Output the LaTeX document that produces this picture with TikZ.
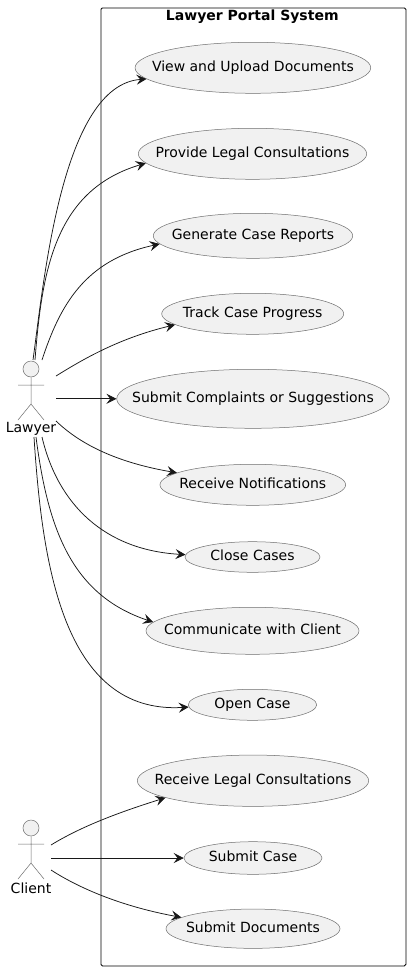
\documentclass[tikz,border=0pt]{standalone}
\usepackage{fontspec}
\setmainfont{DejaVu Sans}
\usetikzlibrary{shapes.geometric,arrows.meta}
\definecolor{ucfill}{HTML}{F1F1F1}
\definecolor{ucline}{HTML}{6E6E6E}
\definecolor{inkc}{HTML}{181818}
\tikzset{
  usecase/.style={ellipse,draw=ucline,fill=ucfill,line width=0.5pt,inner sep=0pt,font=\fontsize{14pt}{16pt}\selectfont,text=black},
  actorlimb/.style={draw=ucline,line width=0.5pt},
  actorhead/.style={circle,draw=ucline,fill=ucfill,line width=0.5pt,minimum size=16pt,inner sep=0pt},
  actorlabel/.style={font=\fontsize{14pt}{16pt}\selectfont,text=black,inner sep=0pt},
  link/.style={draw=inkc,line width=0.75pt,-{Stealth[length=10pt,width=10pt,inset=3.8pt]}},
  sysbox/.style={draw=black,line width=0.75pt,rounded corners=1.5pt},
  systitle/.style={font=\bfseries\fontsize{14pt}{16pt}\selectfont,inner sep=0pt}
}
\begin{document}
\begin{tikzpicture}[x=1pt,y=-1pt]
\useasboundingbox (0,0) rectangle (410,970);
\fill[white] (0,0) rectangle (410,970);
\node[sysbox,minimum width=305pt,minimum height=958pt,anchor=north west] (sys) at (100.5,7.5) {};
\node[systitle] (title) at (252.3,17) {Lawyer Portal System};
\newcommand{\uc}[6]{\node[usecase,minimum width=#4pt,minimum height=#5pt] (#1) at (#2,#3) {\makebox[0pt][c]{\vphantom{Ag}#6}};}
\uc{view}{252.9}{67.8}{235.7}{51}{View and Upload Documents}
\uc{prov}{252.5}{153.8}{228.4}{51}{Provide Legal Consultations}
\uc{gen}{253}{235.8}{199.4}{45}{Generate Case Reports}
\uc{track}{252.7}{313.8}{182}{41}{Track Case Progress}
\uc{subc}{253}{398.8}{272.6}{59}{Submit Complaints or Suggestions}
\uc{noti}{252.8}{484.8}{185.7}{41}{Receive Notifications}
\uc{close}{252.5}{557}{135}{30.6}{Close Cases}
\uc{comm}{252.5}{630.8}{213}{47}{Communicate with Client}
\uc{open}{252.5}{704.8}{128.4}{31}{Open Case}
\uc{recv}{253}{780.7}{231.4}{51.3}{Receive Legal Consultations}
\uc{subk}{253}{858}{138}{32.6}{Submit Case}
\uc{subd}{253}{928.7}{174}{39.3}{Submit Documents}
% Lawyer
\node[actorhead] (lh) at (31,369) {};
\coordinate (lb) at (31,404);
\coordinate (lal) at (18,385);
\coordinate (lar) at (44,385);
\coordinate (lfl) at (18,420);
\coordinate (lfr) at (44,420);
\draw[actorlimb] (lh.south) -- (lb) (lal) -- (lar) (lfl) -- (lb) -- (lfr);
\node[actorlabel] (lawyer) at (31,429) {Lawyer};
% Client
\node[actorhead] (ch) at (31,828) {};
\coordinate (cb) at (31,863);
\coordinate (cal) at (18,844);
\coordinate (car) at (44,844);
\coordinate (cfl) at (18,879);
\coordinate (cfr) at (44,879);
\draw[actorlimb] (ch.south) -- (cb) (cal) -- (car) (cfl) -- (cb) -- (cfr);
\node[actorlabel] (client) at (31,888) {Client};
% start points
\coordinate (s1) at (33,360);
\coordinate (s2) at (35,360);
\coordinate (s3) at (42,360);
\coordinate (s4) at (56,376);
\coordinate (s5) at (56,398.8);
\coordinate (s6) at (56,421);
\coordinate (s7) at (42,437);
\coordinate (s8) at (36,437);
\coordinate (s9) at (34,437);
\coordinate (c1) at (51,845);
\coordinate (c2) at (51,858);
\coordinate (c3) at (51,870);
\draw[link] (s1) .. controls (44,280) and (62,85) .. (view.186);
\draw[link] (s2) .. controls (42,270) and (55,190) .. (prov.185.6);
\draw[link] (s3) .. controls (60,305) and (85,260) .. (gen.185.3);
\draw[link] (s4) .. controls (85,358) and (120,338) .. (track.188.4);
\draw[link] (s5) -- (subc.west);
\draw[link] (s6) .. controls (82,446) and (120,463) .. (noti.171.4);
\draw[link] (s7) .. controls (58,505) and (105,550) .. (close.178.3);
\draw[link] (s8) .. controls (48,530) and (72,595) .. (comm.175);
\draw[link] (s9) .. controls (42,560) and (62,715) .. (open.182.3);
\draw[link] (c1) .. controls (82,826) and (120,812) .. (recv.191.9);
\draw[link] (c2) -- (subk.west);
\draw[link] (c3) .. controls (82,890) and (125,907) .. (subd.171.2);
\end{tikzpicture}
\end{document}
